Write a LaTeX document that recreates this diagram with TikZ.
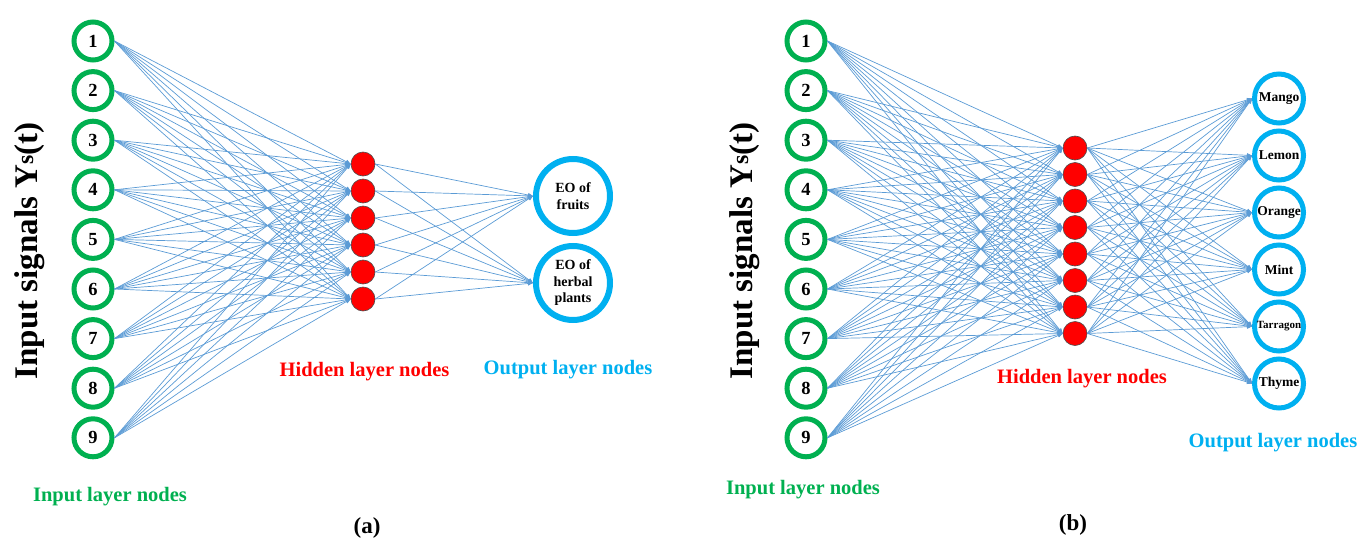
\documentclass[tikz,border=0pt]{standalone}
\usepackage{fontspec}
\setmainfont{Liberation Serif}
\usetikzlibrary{arrows.meta}
\definecolor{ingreen}{RGB}{0,176,80}
\definecolor{outcyan}{RGB}{0,176,240}
\definecolor{hidred}{RGB}{255,0,0}
\definecolor{edgeblue}{RGB}{91,155,213}
\newcommand{\Ysmall}{Y\raisebox{0.12em}{\scalebox{0.72}{s}}(t)}
\tikzset{
  inpnode/.style={circle, draw=ingreen, line width=5pt, minimum size=38pt, inner sep=0pt, font=\fontsize{18.5}{20}\selectfont\bfseries},
  hidnode/.style={circle, draw=black!70, fill=hidred, line width=0.6pt, minimum size=24pt, inner sep=0pt},
  outbig/.style={circle, draw=outcyan, line width=6pt, minimum size=74pt, inner sep=0pt, align=center, font=\fontsize{14}{16.5}\selectfont\bfseries},
  outsmall/.style={circle, draw=outcyan, line width=5pt, minimum size=49pt, inner sep=0pt, font=\fontsize{13.5}{15}\selectfont\bfseries},
  edge/.style={draw=edgeblue, line width=0.7pt, -{Triangle[length=5pt,width=4pt]}},
  lab/.style={font=\fontsize{20.5}{22}\selectfont\bfseries, anchor=base},
  sidelab/.style={font=\fontsize{33}{36}\selectfont\bfseries, rotate=90, anchor=base},
  captlab/.style={font=\fontsize{23}{25}\selectfont\bfseries, anchor=base}
}
\begin{document}
\begin{tikzpicture}[x=1pt,y=-1pt]
\useasboundingbox (0,0) rectangle (1361,541);
% ---------- panel (a) ----------
\foreach \i in {1,...,9} {
  \node[inpnode] (a-i\i) at (93, {41+49.6*(\i-1)}) {\i};
}
\foreach \j in {1,...,6} {
  \node[hidnode] (a-h\j) at (363, {164+27*(\j-1)}) {};
}
\node[outbig] (a-o1) at (573,196) {EO of\\fruits};
\node[outbig] (a-o2) at (573,283) {EO of\\herbal\\plants};
\foreach \i in {1,...,9} {
  \foreach \j in {1,...,6} {
    \draw[edge] (a-i\i.east) -- (a-h\j.west);
  }
}
\foreach \j in {1,...,6} {
  \foreach \k in {1,2} {
    \draw[edge] (a-h\j.east) -- (a-o\k.west);
  }
}
\node[sidelab] (a-side) at (37,251) {Input signals \Ysmall};
\node[lab, text=ingreen] (a-inlab) at (110,501) {Input layer nodes};
\node[lab, text=hidred] (a-hidlab) at (364.5,376.5) {Hidden layer nodes};
\node[lab, text=outcyan] (a-outlab) at (568,374) {Output layer nodes};
\node[captlab] (a-cap) at (367,533) {(a)};
% ---------- panel (b) ----------
\foreach \i in {1,...,9} {
  \node[inpnode] (b-i\i) at (806, {41+49.6*(\i-1)}) {\i};
}
\foreach \j in {1,...,8} {
  \node[hidnode] (b-h\j) at (1075, {148+26.5*(\j-1)}) {};
}
\node[outsmall] (b-o1) at (1279,98.5) {Mango};
\node[outsmall] (b-o2) at (1279,155.5) {Lemon};
\node[outsmall] (b-o3) at (1279,212.5) {Orange};
\node[outsmall] (b-o4) at (1279,269.5) {Mint};
\node[outsmall, font=\fontsize{11}{13}\selectfont\bfseries] (b-o5) at (1279,326.5) {Tarragon};
\node[outsmall] (b-o6) at (1279,383.5) {Thyme};
\foreach \i in {1,...,9} {
  \foreach \j in {1,...,8} {
    \draw[edge] (b-i\i.east) -- (b-h\j.west);
  }
}
\foreach \j in {1,...,8} {
  \foreach \k in {1,...,6} {
    \draw[edge] (b-h\j.east) -- (b-o\k.west);
  }
}
\node[sidelab] (b-side) at (752,251) {Input signals \Ysmall};
\node[lab, text=ingreen] (b-inlab) at (803,494) {Input layer nodes};
\node[lab, text=hidred] (b-hidlab) at (1082,383) {Hidden layer nodes};
\node[lab, text=outcyan] (b-outlab) at (1273,447) {Output layer nodes};
\node[captlab] (b-cap) at (1073,530) {(b)};
\end{tikzpicture}
\end{document}
